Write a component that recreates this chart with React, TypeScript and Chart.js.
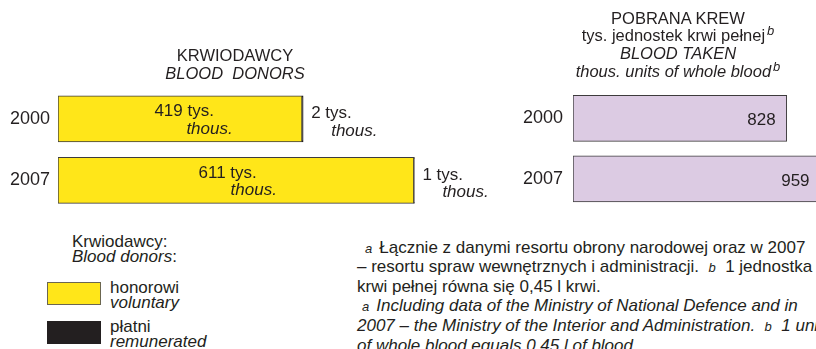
import React, { useEffect, useRef } from "react";
import { Chart, registerables } from "chart.js";
Chart.register(...registerables);

const years = ["2000", "2007"];
const voluntaryDonors = [419, 611];
const paidDonors = [2, 1];
const bloodTaken = [828, 959];
const unitPl = "tys.";
const unitEn = "thous.";

const FONT = '"Liberation Sans", Arial, Helvetica, sans-serif';
const TEXT = "#231f20";
const YELLOW = "#ffe619";
const LILAC = "#dccbe3";
const BORDER = "#3d3b3c";
const BLACK = "#231f20";

const leftLabels = {
  id: "leftLabels",
  afterDatasetsDraw(chart: any) {
    const ctx = chart.ctx;
    const vol = chart.getDatasetMeta(0);
    const paid = chart.getDatasetMeta(1);
    ctx.save();
    ctx.fillStyle = TEXT;
    ctx.textBaseline = "middle";
    ctx.textAlign = "left";
    vol.data.forEach((bar: any, i: number) => {
      const { x, y, base } = bar.getProps(["x", "y", "base"], true);
      const left = base + (x - base) * 0.395;
      ctx.font = `17px ${FONT}`;
      ctx.fillText(`${voluntaryDonors[i]} ${unitPl}`, left, y - 7);
      ctx.font = `italic 17px ${FONT}`;
      ctx.fillText(unitEn, left + 32, y + 10);
      const pb = paid.data[i];
      const px = pb.getProps(["x"], true).x;
      ctx.font = `17px ${FONT}`;
      ctx.fillText(`${paidDonors[i]} ${unitPl}`, px + 8, y - 5);
      ctx.font = `italic 17px ${FONT}`;
      ctx.fillText(unitEn, px + 28, y + 12);
    });
    ctx.restore();
  },
};

const rightLabels = {
  id: "rightLabels",
  afterDatasetsDraw(chart: any) {
    const ctx = chart.ctx;
    const meta = chart.getDatasetMeta(0);
    ctx.save();
    ctx.fillStyle = TEXT;
    ctx.textBaseline = "middle";
    ctx.textAlign = "right";
    ctx.font = `17px ${FONT}`;
    meta.data.forEach((bar: any, i: number) => {
      const { x, y } = bar.getProps(["x", "y"], true);
      ctx.fillText(String(bloodTaken[i]), x - 11, y + 2);
    });
    ctx.restore();
  },
};

function yScale(width: number, pad: number) {
  return {
    stacked: true,
    grid: { display: false, drawTicks: false },
    border: { display: false },
    ticks: { color: TEXT, font: { family: FONT, size: 18 }, padding: pad },
    afterFit: (s: any) => {
      s.width = width;
    },
  };
}

export default function App() {
  const leftRef = useRef<HTMLCanvasElement>(null);
  const rightRef = useRef<HTMLCanvasElement>(null);

  useEffect(() => {
    const left = new Chart(leftRef.current!, {
      type: "bar",
      data: {
        labels: years,
        datasets: [
          {
            label: "honorowi",
            data: voluntaryDonors,
            backgroundColor: YELLOW,
            borderColor: BORDER,
            borderWidth: 1,
            borderSkipped: false,
            barThickness: 46,
          },
          {
            label: "płatni",
            data: paidDonors,
            backgroundColor: BLACK,
            borderColor: BLACK,
            borderWidth: 1,
            borderSkipped: false,
            barThickness: 46,
          },
        ],
      },
      options: {
        indexAxis: "y",
        animation: false,
        responsive: false,
        maintainAspectRatio: false,
        layout: { padding: { top: 88, bottom: 17.5, left: 0, right: 0 } },
        plugins: { legend: { display: false }, tooltip: { enabled: false }, title: { display: false } },
        scales: {
          x: { stacked: true, display: false, min: 0, max: 759 },
          y: yScale(58, 8) as any,
        },
      },
      plugins: [leftLabels],
    });
    const right = new Chart(rightRef.current!, {
      type: "bar",
      data: {
        labels: years,
        datasets: [
          {
            label: "pobrana krew",
            data: bloodTaken,
            backgroundColor: LILAC,
            borderColor: BORDER,
            borderWidth: 1,
            borderSkipped: false,
            barThickness: 46,
          },
        ],
      },
      options: {
        indexAxis: "y",
        animation: false,
        responsive: false,
        maintainAspectRatio: false,
        layout: { padding: { top: 88, bottom: 17.5, left: 0, right: 0 } },
        plugins: { legend: { display: false }, tooltip: { enabled: false } },
        scales: {
          x: { display: false, min: 0, max: 1383 },
          y: yScale(63, 10) as any,
        },
      },
      plugins: [rightLabels],
    });
    return () => {
      left.destroy();
      right.destroy();
    };
  }, []);

  const abs = (l: number, t: number, extra: any = {}): any => ({
    position: "absolute",
    left: l,
    top: t,
    whiteSpace: "pre",
    ...extra,
  });
  const sup: any = { fontStyle: "italic", fontSize: 13, verticalAlign: 6, lineHeight: 0, marginLeft: 2 };
  const mark: any = { fontStyle: "italic", fontSize: 13 };

  return (
    <div
      style={{
        position: "fixed",
        left: 0,
        top: 0,
        width: 816,
        height: 349,
        overflow: "hidden",
        background: "#fff",
        fontFamily: FONT,
        color: TEXT,
        fontSize: 17,
      }}
    >
      <canvas ref={leftRef} width={500} height={230} style={{ position: "absolute", left: 0, top: 0, width: 500, height: 230 }} />
      <canvas ref={rightRef} width={420} height={230} style={{ position: "absolute", left: 510, top: 0, width: 420, height: 230 }} />

      <div style={abs(135, 46, { width: 200, textAlign: "center", lineHeight: "18.3px", fontSize: 16.5 })}>
        <div>KRWIODAWCY</div>
        <div style={{ fontStyle: "italic" }}>BLOOD  DONORS</div>
      </div>

      <div style={abs(528, 9.5, { width: 300, textAlign: "center", lineHeight: "17.8px", fontSize: 16.5 })}>
        <div>POBRANA KREW</div>
        <div>
          tys. jednostek krwi pełnej<span style={sup}>b</span>
        </div>
        <div style={{ fontStyle: "italic" }}>BLOOD TAKEN</div>
        <div style={{ fontStyle: "italic" }}>
          thous. units of whole blood<span style={sup}>b</span>
        </div>
      </div>

      <div style={abs(72, 234, { lineHeight: "15.3px" })}>
        <div>Krwiodawcy:</div>
        <div>
          <span style={{ fontStyle: "italic" }}>Blood donors</span>:
        </div>
      </div>
      <div style={abs(47, 282, { width: 54, height: 23, boxSizing: "border-box", background: YELLOW, border: "1px solid #6b6650" })} />
      <div style={abs(47, 321, { width: 54, height: 23, background: BLACK })} />
      <div style={abs(110, 279.5, { lineHeight: "15px" })}>
        <div>honorowi</div>
        <div style={{ fontStyle: "italic" }}>voluntary</div>
      </div>
      <div style={abs(110, 319, { lineHeight: "15px" })}>
        <div>płatni</div>
        <div style={{ fontStyle: "italic" }}>remunerated</div>
      </div>

      <div style={abs(357, 238.6, { lineHeight: "18.8px" })}>
        <div>
          <span style={{ ...mark, marginLeft: 8, marginRight: 7 }}>a</span>Łącznie z danymi resortu obrony narodowej oraz w 2007
        </div>
        <div>
          – resortu spraw wewnętrznych i administracji.  <span style={mark}>b</span>  1 jednostka
        </div>
        <div>krwi pełnej równa się 0,45 l krwi.</div>
        <div style={{ fontStyle: "italic" }}>
          <span style={{ ...mark, marginLeft: 5, marginRight: 7 }}>a</span>Including data of the Ministry of National Defence and in
        </div>
        <div style={{ fontStyle: "italic" }}>
          2007 – the Ministry of the Interior and Administration.  <span style={mark}>b</span>  1 unit
        </div>
        <div style={{ fontStyle: "italic" }}>of whole blood equals 0,45 l of blood.</div>
      </div>
    </div>
  );
}
